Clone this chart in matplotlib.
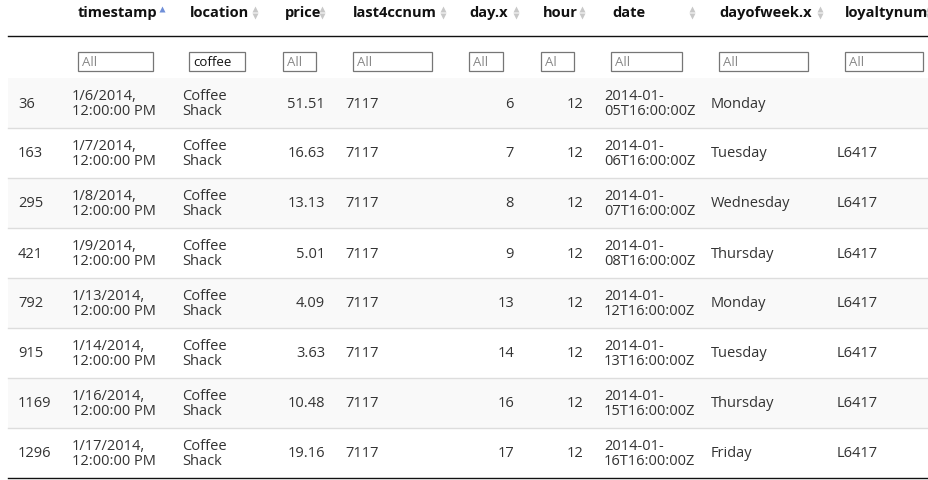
import matplotlib.pyplot as plt
from matplotlib.patches import Rectangle

# --- table data ---
headers = ['timestamp', 'location', 'price', 'last4ccnum', 'day.x', 'hour', 'date', 'dayofweek.x', 'loyaltynum']
filters = ['All', 'coffee', 'All', 'All', 'All', 'Al', 'All', 'All', 'All']
row_ids = [36, 163, 295, 421, 792, 915, 1169, 1296]
timestamps = ['1/6/2014,', '1/7/2014,', '1/8/2014,', '1/9/2014,', '1/13/2014,', '1/14/2014,', '1/16/2014,', '1/17/2014,']
locations = ['Coffee\nShack'] * 8
prices = ['51.51', '16.63', '13.13', '5.01', '4.09', '3.63', '10.48', '19.16']
ccnums = ['7117'] * 8
days = [6, 7, 8, 9, 13, 14, 16, 17]
hours = [12] * 8
dates = ['05', '06', '07', '08', '12', '13', '15', '16']
weekdays = ['Monday', 'Tuesday', 'Wednesday', 'Thursday', 'Monday', 'Tuesday', 'Thursday', 'Friday']
loyalty = ['', 'L6417', 'L6417', 'L6417', 'L6417', 'L6417', 'L6417', 'L6417']

W, H = 929, 481
fig = plt.figure(figsize=(W / 100, H / 100), dpi=100)
ax = fig.add_axes([0, 0, 1, 1])
ax.set_xlim(0, W)
ax.set_ylim(H, 0)
ax.axis('off')
plt.rcParams['font.family'] = ['Open Sans', 'DejaVu Sans']
fs = 10.5
txt = '#333333'

# header
header_x = [78, 190, 285, 353, 469, 543, 612, 719, 845]
icon_x = [162, 255, 322, 443, 516, 582, 692, 820, 928]
for i, (h, x) in enumerate(zip(headers, header_x)):
    ax.text(x, 13, h, fontsize=fs, fontweight='bold', color='#111', va='center')
    up = '#6f8fd8' if i == 0 else '#c8c8c8'
    ax.plot(icon_x[i], 9.5, marker='^', ms=4.5, color=up, mec='none')
    if i != 0:
        ax.plot(icon_x[i], 16.5, marker='v', ms=4.5, color='#c8c8c8', mec='none')
ax.plot([8, 929], [37, 37], color='#111', lw=1)

# filter boxes
boxes = [(78, 153), (189, 245), (283, 316), (353, 432), (469, 503), (541, 574), (611, 682), (719, 808), (845, 923)]
for (x0, x1), f in zip(boxes, filters):
    ax.add_patch(Rectangle((x0, 53), x1 - x0, 19, fc='white', ec='#767676', lw=0.9))
    ax.text(x0 + 4, 63, f, fontsize=9.5, va='center', color='#111' if f == 'coffee' else '#888')

# rows
top, rh = 79, 50
for r in range(len(row_ids)):
    y0 = top + r * rh
    yc = y0 + rh / 2
    if r % 2 == 0:
        ax.add_patch(Rectangle((8, y0), W - 8, rh, fc='#f9f9f9', ec='none'))
    if r > 0:
        ax.plot([8, W], [y0, y0], color='#dddddd', lw=1)
    ax.text(18, yc, str(row_ids[r]), fontsize=fs, va='center', color=txt)
    ax.text(72, yc, timestamps[r] + '\n12:00:00 PM', fontsize=fs, va='center', color=txt, linespacing=1.0)
    ax.text(182, yc, locations[r], fontsize=fs, va='center', color=txt, linespacing=1.0)
    ax.text(325, yc, prices[r], fontsize=fs, va='center', ha='right', color=txt)
    ax.text(345, yc, ccnums[r], fontsize=fs, va='center', color=txt)
    ax.text(514, yc, str(days[r]), fontsize=fs, va='center', ha='right', color=txt)
    ax.text(583, yc, str(hours[r]), fontsize=fs, va='center', ha='right', color=txt)
    ax.text(604, yc, '2014-01-\n' + dates[r] + 'T16:00:00Z', fontsize=fs, va='center', color=txt, linespacing=1.0)
    ax.text(711, yc, weekdays[r], fontsize=fs, va='center', color=txt)
    ax.text(837, yc, loyalty[r], fontsize=fs, va='center', color=txt)
ax.plot([8, W], [top + 8 * rh, top + 8 * rh], color='#111', lw=1)

fig.savefig('out.png', dpi=100)
